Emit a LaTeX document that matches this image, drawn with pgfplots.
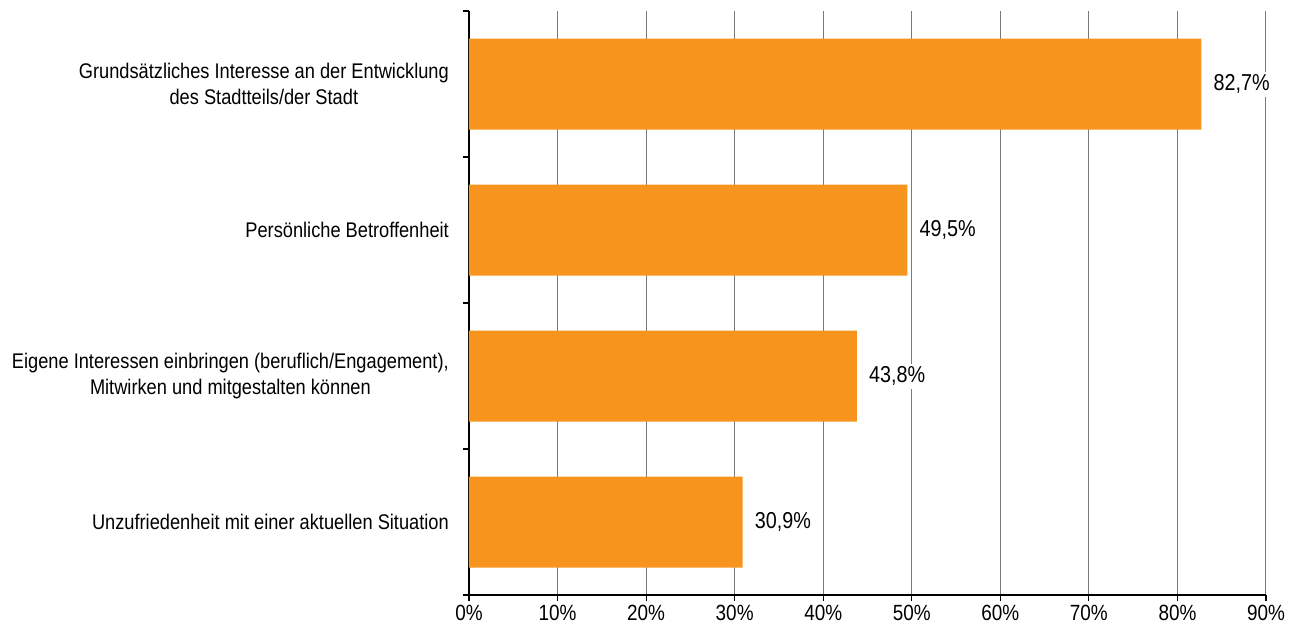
\documentclass[border=0pt]{standalone}
\usepackage{pgfplots}
\pgfplotsset{compat=1.18}
\usepackage{fontspec}
\setmainfont{Liberation Sans}[FakeStretch=0.86]
\definecolor{barorange}{HTML}{F7941E}
\definecolor{gridgray}{HTML}{7A7A7A}
\begin{document}
\begin{tikzpicture}
\useasboundingbox (-469pt,-38pt) rectangle (829pt,595pt);
\begin{axis}[
  /pgf/number format/assume math mode=true,
  scale only axis, width=797pt, height=584pt,
  font=\fontsize{22}{25}\selectfont,
  xbar, bar width=91pt,
  xmin=0, xmax=90,
  ymin=-0.5, ymax=3.5, y dir=reverse,
  axis x line*=bottom, axis y line*=left,
  axis line style={line width=1.5pt, black, -},
  tick align=outside, major tick length=6pt,
  tick style={black, line width=1.2pt},
  xtick={0,10,...,90},
  xticklabel={\pgfmathprintnumber{\tick}\%},
  xticklabel style={inner sep=0pt, yshift=-4pt, font=\fontsize{22}{25}\selectfont},
  xmajorgrids, major grid style={gridgray, line width=1pt},
  ytick={-0.5,0.5,1.5,2.5,3.5}, yticklabels={},
  extra y ticks={0,1,2,3},
  extra y tick labels={{Grundsätzliches Interesse an der Entwicklung\\des Stadtteils/der Stadt},{Persönliche Betroffenheit},{Eigene Interessen einbringen (beruflich/Engagement),\\Mitwirken und mitgestalten können},{Unzufriedenheit mit einer aktuellen Situation}},
  extra y tick style={major tick length=0pt, ymajorgrids=false, yticklabel style={align=center, anchor=east, inner sep=0pt, xshift=-20pt, font=\fontsize{21.2}{26}\selectfont}},
  nodes near coords={\pgfmathprintnumber[fixed,fixed zerofill,precision=1,use comma]{\pgfplotspointmeta}\%},
  every node near coord/.append style={anchor=west, fill=white, inner sep=3pt, xshift=9pt, font=\fontsize{23}{26}\selectfont, text=black},
  clip=false,
]
\addplot[fill=barorange, draw=none] coordinates {(82.7,0) (49.5,1) (43.8,2) (30.9,3)};
\end{axis}
\end{tikzpicture}
\end{document}
